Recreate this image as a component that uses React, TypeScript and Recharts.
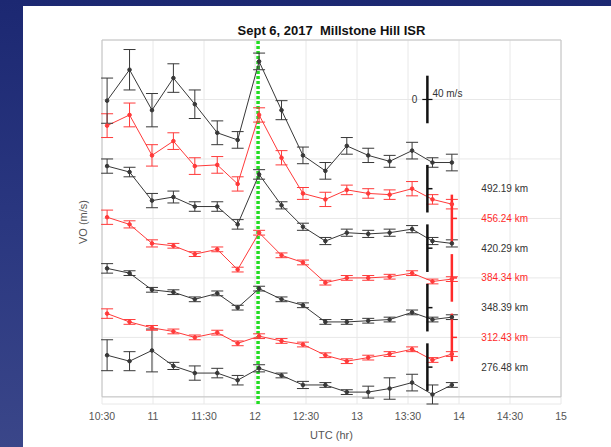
import React from "react";
import {
  LineChart,
  Line,
  XAxis,
  YAxis,
  CartesianGrid,
  ErrorBar,
  ReferenceLine,
  ReferenceDot,
  ReferenceArea,
} from "recharts";

// UTC hours of each ISR sample
const times = [10.55, 10.77, 10.99, 11.2, 11.41, 11.63, 11.83, 12.04, 12.26, 12.47, 12.69, 12.9, 13.11, 13.32, 13.54, 13.74, 13.93];

// stacked VO traces (offset m/s) and their error half-widths, one per altitude
const v276 = [35, 30, 39, 26, 20, 20, 14, 24, 18, 10, 10, 4, 4, 7, 12, 2, 10];
const e276 = [13, 8, 18, 3, 6, 4, 4, 3, 2, 3, 2, 2, 5, 9, 7, 8, 2];
const v312 = [70, 63, 58, 55, 50, 54, 45, 51, 47, 44, 35, 30, 33, 36, 40, 31, 36];
const e312 = [4, 2, 2, 2, 2, 2, 2, 2, 2, 2, 2, 2, 2, 2, 2, 2, 2];
const v348 = [108, 104, 90, 88, 82, 87, 75, 91, 82, 77, 63, 63, 64, 65, 71, 65, 67];
const e348 = [4, 2, 2, 2, 2, 2, 2, 2, 2, 2, 2, 2, 2, 2, 2, 2, 2];
const v384 = [151, 145, 129, 127, 120, 124, 107, 138, 119, 113, 96, 100, 100, 101, 104, 97, 99];
const e384 = [6, 3, 3, 2, 2, 2, 2, 2, 2, 2, 2, 2, 2, 2, 2, 2, 2];
const v420 = [194, 189, 165, 168, 160, 160, 145, 187, 161, 143, 131, 138, 137, 138, 141, 131, 129];
const e420 = [6, 4, 6, 5, 4, 4, 4, 4, 3, 3, 3, 3, 3, 3, 3, 3, 3];
const v456 = [228, 237, 203, 215, 194, 195, 179, 237, 201, 171, 166, 174, 171, 170, 175, 166, 162];
const e456 = [10, 10, 9, 7, 7, 7, 6, 6, 6, 5, 6, 4, 4, 4, 6, 4, 4];
const v492 = [249, 275, 241, 268, 246, 222, 216, 282, 241, 203, 190, 211, 203, 198, 207, 197, 197];
const e492 = [19, 17, 14, 12, 12, 10, 7, 7, 8, 7, 7, 7, 6, 5, 7, 4, 7];

const altitudes = ["276.48", "312.43", "348.39", "384.34", "420.29", "456.24", "492.19"];
const zeroLevels = [25, 50, 75, 100, 125, 150, 175];
const traceColors = ["#383838", "#ff3a3a", "#383838", "#ff3a3a", "#383838", "#ff3a3a", "#383838"];

const xTicks = [10.5, 11, 11.5, 12, 12.5, 13, 13.5, 14, 14.5, 15];
const xTickLabels = ["10:30", "11", "11:30", "12", "12:30", "13", "13:30", "14", "14:30", "15"];
const yTicks = [0, 50, 100, 150, 200, 250, 300];

const eventTime = 12.03; // green marker
const blackBarTime = 13.69;
const redBarTime = 13.93;
const labelTime = 14.17;
const scaleZero = 250;
const barHalf = 20; // +-20 m/s -> 40 m/s scale

const values = [v276, v312, v348, v384, v420, v456, v492];
const errors = [e276, e312, e348, e384, e420, e456, e492];

const rows = times.map((t, i) => {
  const row: Record<string, number> = { t };
  altitudes.forEach((alt, k) => {
    row["v" + alt] = values[k][i];
    row["e" + alt] = errors[k][i];
  });
  return row;
});

const font = '"Liberation Sans", Arial, sans-serif';

const App: React.FC = () => {
  return (
    <div
      style={{
        position: "absolute",
        left: 0,
        top: 0,
        width: 611,
        height: 447,
        overflow: "hidden",
        background: "linear-gradient(180deg, #1c2872 0%, #2a3780 50%, #3a4689 100%)",
        fontFamily: font,
      }}
    >
      <div style={{ position: "absolute", left: 23, top: 6, right: 0, bottom: 0, background: "#fff" }} />
      <div style={{ position: "absolute", left: 0, top: 0 }}>
        <LineChart width={611} height={447} data={rows} margin={{ top: 40, right: 50, bottom: 13, left: 102 }}>
          <CartesianGrid stroke="#e8e8e8" />
          <XAxis
            dataKey="t"
            type="number"
            domain={[10.5, 15]}
            ticks={xTicks}
            tickFormatter={(v: number) => xTickLabels[xTicks.indexOf(v)] ?? ""}
            height={30}
            axisLine={false}
            tickLine={false}
            tickMargin={3}
            tick={{ fontSize: 10.5, fill: "#555", fontFamily: font }}
            label={{ value: "UTC (hr)", position: "insideBottom", offset: -5, fontSize: 11, fill: "#555", fontFamily: font }}
          />
          <YAxis type="number" domain={[0, 300]} ticks={yTicks} hide />
          <ReferenceArea x1={10.5} x2={15} y1={0} y2={300} fill="none" stroke="#c4c4c4" />
          <ReferenceLine x={eventTime} stroke="#22dd22" strokeWidth={3.5} strokeDasharray="3 2" />

          {altitudes.map((alt, k) => (
            <Line
              key={alt}
              dataKey={"v" + alt}
              stroke={traceColors[k]}
              strokeWidth={1}
              dot={{ r: 1.8, fill: traceColors[k], stroke: traceColors[k] }}
              isAnimationActive={false}
            >
              <ErrorBar dataKey={"e" + alt} width={6} stroke={traceColors[k]} strokeWidth={1} direction="y" />
            </Line>
          ))}

          {/* per-altitude 40 m/s bars with zero ticks */}
          {zeroLevels.map((z, k) => {
            const bt = k % 2 === 0 ? blackBarTime : redBarTime;
            const c = k % 2 === 0 ? "#111" : "#ff2a2a";
            return (
              <React.Fragment key={"bar" + k}>
                <ReferenceLine segment={[{ x: bt, y: z - barHalf }, { x: bt, y: z + barHalf }]} stroke={c} strokeWidth={2.5} />
                <ReferenceLine segment={[{ x: bt, y: z }, { x: bt + 0.05, y: z }]} stroke={c} strokeWidth={1.5} />
              </React.Fragment>
            );
          })}

          {/* reference scale bar */}
          <ReferenceLine
            segment={[{ x: blackBarTime, y: scaleZero - barHalf }, { x: blackBarTime, y: scaleZero + barHalf }]}
            stroke="#111"
            strokeWidth={2.5}
          />
          <ReferenceLine
            segment={[{ x: blackBarTime - 0.05, y: scaleZero }, { x: blackBarTime + 0.05, y: scaleZero }]}
            stroke="#111"
            strokeWidth={1.2}
          />
          <ReferenceDot
            x={blackBarTime - 0.05}
            y={scaleZero}
            r={0}
            fill="none"
            stroke="none"
            label={{ value: "0", position: "left", fontSize: 10, fill: "#333", fontFamily: font }}
          />
          <ReferenceDot
            x={blackBarTime}
            y={scaleZero + 5}
            r={0}
            fill="none"
            stroke="none"
            label={{ value: "40 m/s", position: "right", fontSize: 10, fill: "#333", fontFamily: font }}
          />

          {altitudes.map((alt, k) => (
            <ReferenceDot
              key={"lab" + alt}
              x={labelTime}
              y={zeroLevels[k]}
              r={0}
              fill="none"
              stroke="none"
              label={{ value: `${alt} km`, position: "right", fontSize: 10, fill: k % 2 === 0 ? "#333" : "#ff2a2a", fontFamily: font }}
            />
          ))}
        </LineChart>
      </div>
      <div
        style={{
          position: "absolute",
          left: 102,
          width: 459,
          top: 24,
          textAlign: "center",
          fontSize: 13,
          lineHeight: "14px",
          fontWeight: "bold",
          color: "#111",
        }}
      >
        Sept 6, 2017&nbsp;&nbsp;Millstone Hill ISR
      </div>
      <div
        style={{
          position: "absolute",
          left: 83,
          top: 222,
          transform: "translate(-50%, -50%) rotate(-90deg)",
          whiteSpace: "nowrap",
          fontSize: 11,
          color: "#555",
        }}
      >
        VO (m/s)
      </div>
    </div>
  );
};

export default App;
